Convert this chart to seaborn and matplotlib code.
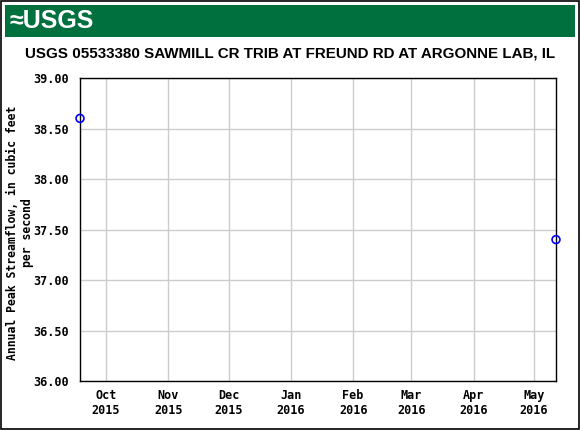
import pandas as pd
import matplotlib
matplotlib.use('Agg')
import matplotlib.pyplot as plt
import matplotlib.dates as mdates
import seaborn as sns

# datos
fechas = ['2015-09-18', '2016-05-12']
caudal_pico = [38.6, 37.4]
titulo = 'USGS 05533380 SAWMILL CR TRIB AT FREUND RD AT ARGONNE LAB, IL'
etiqueta_y = 'Annual Peak Streamflow, in cubic feet\nper second'
y_ticks = [36.0, 36.5, 37.0, 37.5, 38.0, 38.5, 39.0]

df = pd.DataFrame({'fecha': pd.to_datetime(fechas), 'caudal': caudal_pico})

sns.set_style('white')
plt.rcParams['font.family'] = ['DejaVu Sans Mono']
plt.rcParams['text.color'] = 'black'
plt.rcParams['xtick.color'] = 'black'
plt.rcParams['ytick.color'] = 'black'
plt.rcParams['axes.labelcolor'] = 'black'

fig = plt.figure(figsize=(5.8, 4.3), dpi=100)

# borde exterior
fig.patches.append(plt.Rectangle((0.002, 0.002), 0.996, 0.996, transform=fig.transFigure,
                                 fill=False, edgecolor='black', linewidth=1.2))
# banda verde USGS
fig.patches.append(plt.Rectangle((5 / 580, 1 - 37 / 430), 570 / 580, 32 / 430, transform=fig.transFigure,
                                 facecolor='#00703f', edgecolor='none'))
fig.text(9 / 580, 1 - 21 / 430, '\u2248USGS', color='white', fontsize=18, fontweight='bold',
         family=['Liberation Sans', 'DejaVu Sans'], va='center', ha='left')

fig.text(0.5, 1 - 54 / 430, titulo, fontsize=10.9, fontweight='bold',
         family=['Liberation Sans', 'DejaVu Sans'], ha='center', va='center')

ax = fig.add_axes([80 / 580, 1 - 381 / 430, 476 / 580, 303 / 430])
sns.scatterplot(x='fecha', y='caudal', data=df, ax=ax, marker='o', s=32,
                facecolor='none', edgecolor='#0000ff', linewidth=1.2, zorder=5, clip_on=False)

ax.set_xlim(df['fecha'].min(), df['fecha'].max())
ax.set_ylim(36, 39)
ax.set_yticks(y_ticks)
ax.set_yticklabels([f'{v:.2f}' for v in y_ticks])
ax.xaxis.set_major_locator(mdates.MonthLocator())
ax.xaxis.set_major_formatter(mdates.DateFormatter('%b\n%Y'))
ax.grid(True, color='#cccccc', linewidth=1)
ax.tick_params(axis='y', length=0, pad=8, labelsize=8.5)
ax.tick_params(axis='x', length=0, pad=6, labelsize=8.5)
for lbl in ax.get_xticklabels() + ax.get_yticklabels():
    lbl.set_fontweight('bold')
for sp in ax.spines.values():
    sp.set_color('black')
    sp.set_linewidth(1)
ax.set_xlabel('')
ax.set_ylabel(etiqueta_y, fontsize=8.3, fontweight='bold', linespacing=1.2)
ax.yaxis.set_label_coords(-46 / 476, 0.49)

plt.savefig('out.png', dpi=100)
